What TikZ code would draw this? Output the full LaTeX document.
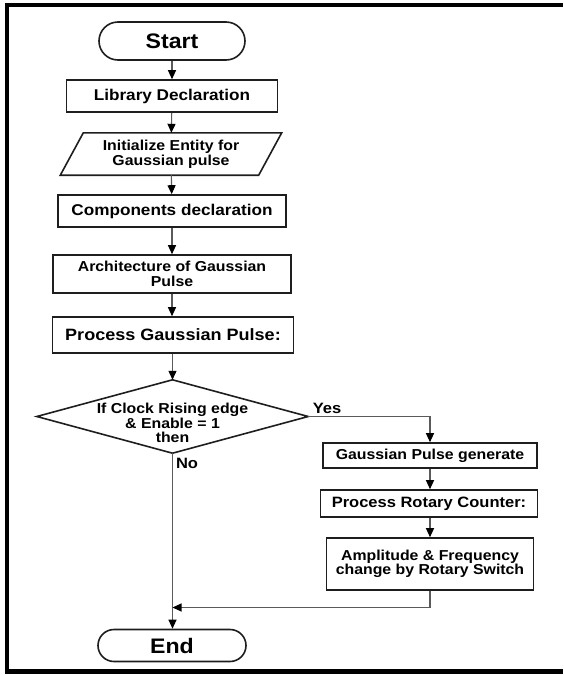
\documentclass[tikz,border=0pt]{standalone}
\usepackage{fontspec}
\setmainfont{Liberation Sans}[FakeStretch=1.1]
\usetikzlibrary{arrows.meta}
\definecolor{edgegray}{HTML}{5A5A5A}
\definecolor{boxline}{HTML}{1E1E1E}

\begin{document}
\begin{tikzpicture}[x=1pt,y=-1pt,
  txt/.style={inner sep=0pt, align=center, font=\bfseries\fontsize{14.4}{14.6}\selectfont},
  box/.style={txt, draw=boxline, line width=1.6pt, fill=white},
  bigbox/.style={box, font=\bfseries\fontsize{15.6}{16}\selectfont},
  terminal/.style={box, font=\bfseries\fontsize{21}{22}\selectfont},
  outline/.style={draw=boxline, line width=1.6pt},
  flow/.style={draw=edgegray, line width=1.1pt, -{Triangle[length=9pt,width=8pt,color=black]}},
  plain/.style={draw=edgegray, line width=1.1pt},
  tag/.style={txt, font=\bfseries\fontsize{15}{16}\selectfont}]

\useasboundingbox (0,0) rectangle (563,675);

% page frame (left, top and bottom rules)
\fill[black] (4.5,3) rectangle (9,674);
\fill[black] (4.5,3) rectangle (563,7);
\fill[black] (4.5,669) rectangle (563,674);

% main column
\node[terminal, minimum width=146, minimum height=38, rounded corners=19] (start) at (172,41) {Start};
\node[bigbox, minimum width=211, minimum height=32] (lib) at (172,96) {Library Declaration};
\node[txt, minimum width=198, minimum height=42] (init) at (171,154) {Initialize Entity for\\Gaussian pulse};
\draw[outline] ([xshift=11.5]init.north west) -- ([xshift=11.5]init.north east)
  -- ([xshift=-11.5]init.south east) -- ([xshift=-11.5]init.south west) -- cycle;
\node[bigbox, minimum width=228, minimum height=32] (comp) at (172,211) {Components declaration};
\node[box, minimum width=238, minimum height=38] (arch) at (172,274) {Architecture of Gaussian\\Pulse};
\node[bigbox, minimum width=241, minimum height=36, font=\bfseries\fontsize{16.4}{17}\selectfont] (proc) at (173,335) {Process Gaussian Pulse:};

% decision
\node[inner sep=0pt, minimum width=271, minimum height=73] (dec) at (172.5,416.5) {};
\draw[outline] (dec.north) -- (dec.east) -- (dec.south) -- (dec.west) -- cycle;
\node[txt] (dectext) at (172.5,423) {If Clock Rising edge\\\& Enable = 1\\then};

% right branch
\node[box, minimum width=214, minimum height=25] (gen) at (430,455.5) {Gaussian Pulse generate};
\node[box, minimum width=217, minimum height=27, font=\bfseries\fontsize{15}{16}\selectfont] (rot) at (429,503.5) {Process Rotary Counter:};
\node[box, minimum width=207, minimum height=52] (amp) at (430,564) {Amplitude \& Frequency\\change by Rotary Switch};

% end
\node[terminal, minimum width=148, minimum height=32, rounded corners=16] (end) at (172,645.5) {End};

% labels
\node[tag] (yes) at (327,408) {Yes};
\node[tag] (no) at (187,463) {No};

% connectors
\draw[flow] (start) -- (lib);
\draw[flow] (lib) -- (init);
\draw[flow] (init) -- (comp);
\draw[flow] (comp) -- (arch);
\draw[flow] (arch) -- (proc.north -| arch.south);
\draw[flow] (proc.south -| dec.north) -- (dec.north);
\draw[flow] (dec.east) -| (gen.north);
\draw[flow] (gen) -- (rot.north -| gen.south);
\draw[flow] (rot.south -| amp.north) -- (amp);
\draw[flow] (dec.south) -- (end.north -| dec.south);
\coordinate (join) at (172.5,607.5);
\draw[flow] (amp.south) |- (join);
\end{tikzpicture}
\end{document}
